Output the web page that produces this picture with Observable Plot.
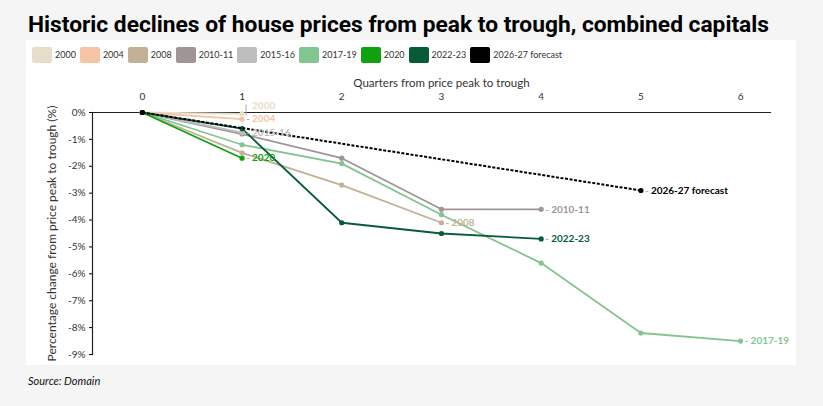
<!DOCTYPE html>
<html>
<head>
<meta charset="utf-8">
<script src="https://cdn.jsdelivr.net/npm/d3@7"></script>
<script src="https://cdn.jsdelivr.net/npm/@observablehq/plot@0.6"></script>
<style>
  html, body { margin: 0; padding: 0; background: #f5f5f5; width: 823px; height: 406px; overflow: hidden; }
  #title { position: absolute; left: 28px; top: 14px; font-family: Roboto, sans-serif; font-weight: 700; font-size: 22px; line-height: 22px; color: #000; white-space: nowrap; transform-origin: left top; }
  #panel { position: absolute; left: 26px; top: 40px; width: 770px; height: 325px; background: #fff; }
  #legend { position: absolute; left: 32px; top: 46px; height: 17px; display: flex; align-items: center; font-family: Lato, sans-serif; font-size: 9px; color: #333; white-space: nowrap; }
  #legend .item { display: flex; align-items: center; margin-right: 4px; }
  #legend .sw { width: 20px; height: 16px; border-radius: 2px; margin-right: 3px; }
  #chart { position: absolute; left: 26px; top: 68px; }
  #source { position: absolute; left: 28px; top: 374px; font-family: Lato, sans-serif; font-style: italic; font-size: 11px; color: #111; }
</style>
</head>
<body>
<div id="title">Historic declines of house prices from peak to trough, combined capitals</div>
<div id="panel"></div>
<div id="legend"></div>
<div id="chart"></div>
<div id="source">Source: Domain</div>
<script>
// ---- data ----
const seriesNames = ["2000", "2004", "2008", "2010-11", "2015-16", "2017-19", "2020", "2022-23", "2026-27 forecast"];
const seriesColors = ["#e6ddca", "#f5c4a5", "#c4b097", "#9f9595", "#bdbdbd", "#82c68f", "#0ea30e", "#075c37", "#000000"];
const quarterTicks = [0, 1, 2, 3, 4, 5, 6];
const v2000 = [0, -0.05];
const v2004 = [0, -0.25];
const v2008 = [0, -1.5, -2.7, -4.1];
const v2010_11 = [0, -0.8, -1.7, -3.6, -3.6];
const v2015_16 = [0, -0.75];
const v2017_19 = [0, -1.2, -1.9, -3.8, -5.6, -8.2, -8.5];
const v2020 = [0, -1.7];
const v2022_23 = [0, -0.6, -4.1, -4.5, -4.7];
const forecastQuarters = [0, 5];
const vForecast = [0, -2.9];
const yTicks = [0, -1, -2, -3, -4, -5, -6, -7, -8, -9];

// ---- build table ----
const valueLists = [v2000, v2004, v2008, v2010_11, v2015_16, v2017_19, v2020, v2022_23];
const rows = [];
valueLists.forEach((vals, i) => vals.forEach((v, q) => rows.push({series: seriesNames[i], q, v})));
vForecast.forEach((v, i) => rows.push({series: seriesNames[8], q: forecastQuarters[i], v}));
const ends = seriesNames.map(s => { const r = rows.filter(d => d.series === s); return r[r.length - 1]; });
const solid = rows.filter(d => d.series !== "2026-27 forecast");
const dashed = rows.filter(d => d.series === "2026-27 forecast");
const end2000 = ends.filter(d => d.series === "2000");
const endsOther = ends.filter(d => d.series !== "2000");

// ---- legend ----
const legend = document.getElementById("legend");
seriesNames.forEach((s, i) => {
  const it = document.createElement("div"); it.className = "item";
  const sw = document.createElement("div"); sw.className = "sw"; sw.style.background = seriesColors[i];
  const lb = document.createElement("span"); lb.textContent = s;
  it.appendChild(sw); it.appendChild(lb); legend.appendChild(it);
});

// ---- chart ----
const chart = Plot.plot({
  width: 770, height: 297,
  marginTop: 44, marginBottom: 11, marginLeft: 66, marginRight: 26,
  style: {fontFamily: "Lato, sans-serif", background: "transparent", overflow: "visible"},
  x: {domain: [-0.5, 6.3], axis: null},
  y: {domain: [-9, 0], axis: null},
  color: {domain: seriesNames, range: seriesColors},
  marks: [
    Plot.axisX({anchor: "top", ticks: quarterTicks, tickFormat: d3.format("d"), tickSize: 0, tickPadding: 13, fontSize: 10, fill: "#333", label: null}),
    Plot.text(["Quarters from price peak to trough"], {frameAnchor: "top", dx: 10, dy: -34, fontSize: 11.5, fill: "#333"}),
    Plot.axisY({anchor: "left", ticks: yTicks, tickSize: 3, tickPadding: 4, fontSize: 10, fill: "#333", tickFormat: d => d + "%",
      label: "Percentage change from price peak to trough (%)", labelAnchor: "center", labelArrow: "none", labelOffset: 45}),
    Plot.frame({anchor: "left", stroke: "#222", strokeWidth: 1.2}),
    Plot.frame({anchor: "top", stroke: "#222", strokeWidth: 1.2}),
    Plot.line(solid, {x: "q", y: "v", z: "series", stroke: "series", strokeWidth: 1.8}),
    Plot.dot(solid, {x: "q", y: "v", fill: "series", r: 2.6}),
    Plot.line(dashed, {x: "q", y: "v", stroke: "series", strokeWidth: 2, strokeDasharray: "3,1.6", strokeLinecap: "butt"}),
    Plot.dot(dashed, {x: "q", y: "v", fill: "series", r: 2.6}),
    Plot.text(endsOther, {x: "q", y: "v", text: () => "-", dx: 6, fill: "#999", fontSize: 10}),
    Plot.text(endsOther, {x: "q", y: "v", text: "series", fill: "series", dx: 10, textAnchor: "start", fontWeight: "bold", fontSize: 10}),
    Plot.text(end2000, {x: "q", y: "v", text: "series", fill: "series", dx: 10, dy: -8, textAnchor: "start", fontWeight: "bold", fontSize: 10}),
    Plot.ruleX(end2000, {x: "q", y1: "v", y2: "v", dx: 4, insetTop: -9, insetBottom: -2, stroke: "#aaa", strokeWidth: 1})
  ]
});
document.getElementById("chart").appendChild(chart);
// larger y-axis title
chart.querySelectorAll("g[aria-label='y-axis label'] text").forEach(el => el.setAttribute("font-size", "12"));

// fit title width to reference
const t = document.getElementById("title");
const w = t.getBoundingClientRect().width;
t.style.transform = `scaleX(${741 / w})`;
</script>
</body>
</html>
